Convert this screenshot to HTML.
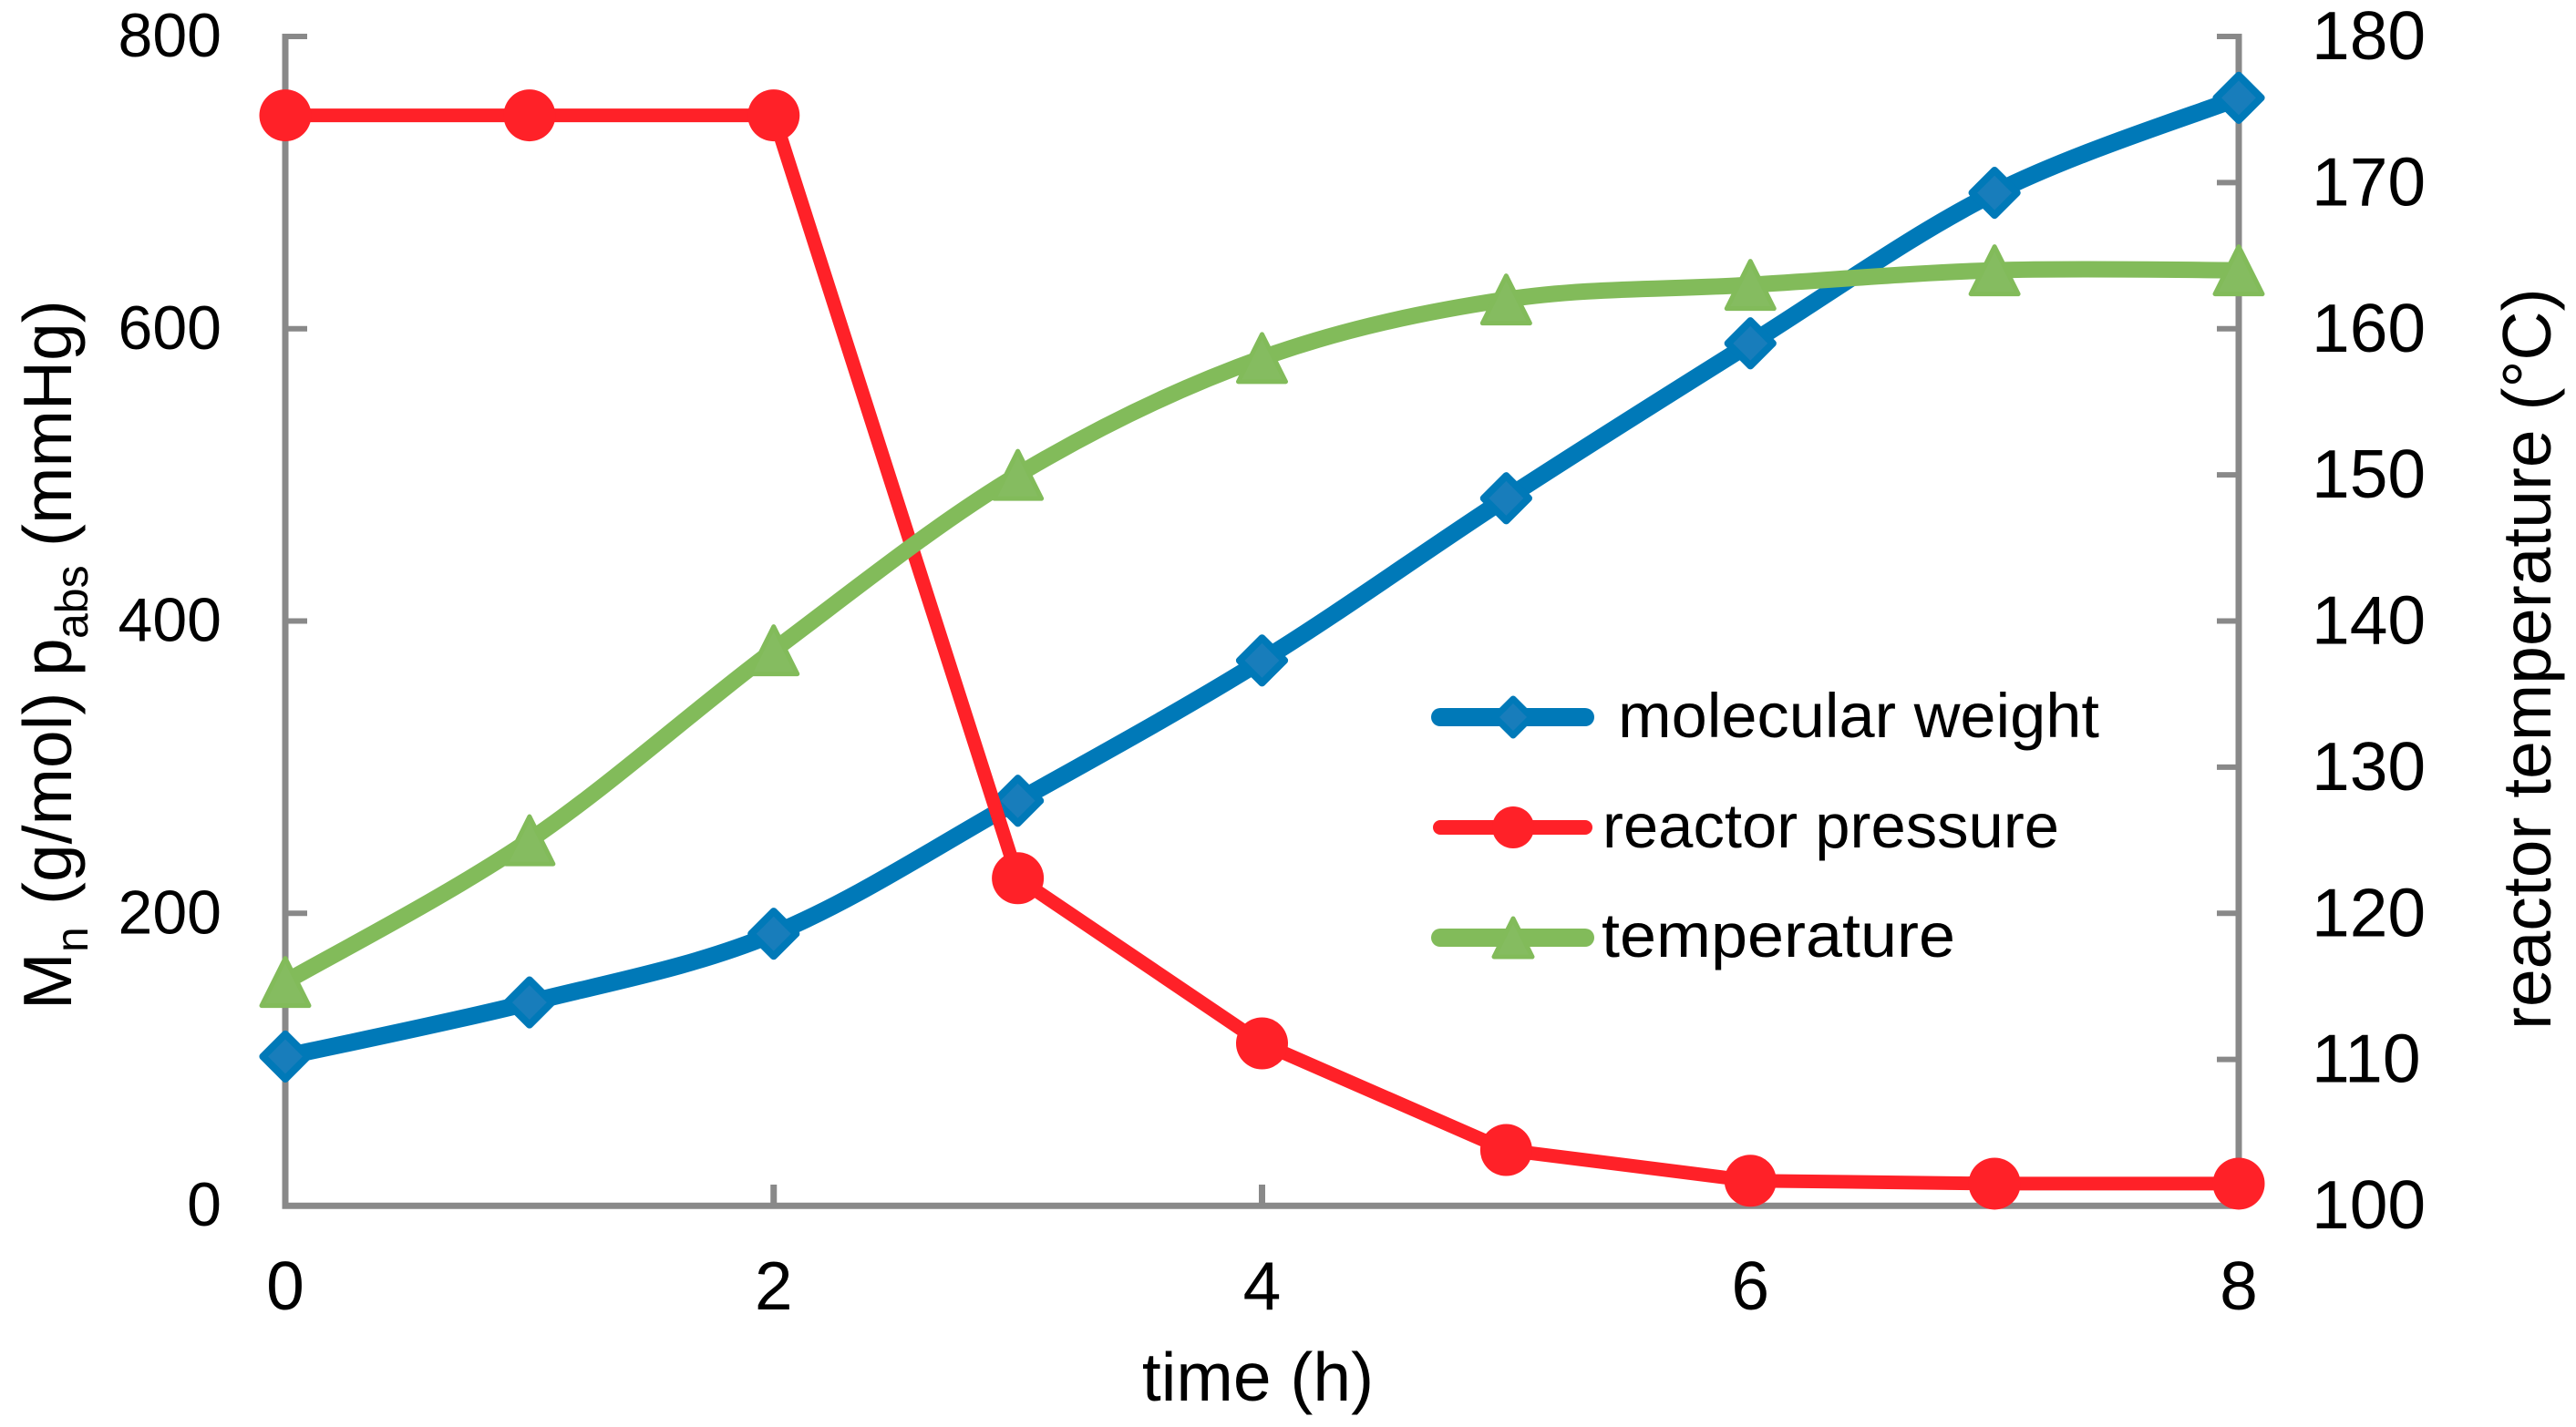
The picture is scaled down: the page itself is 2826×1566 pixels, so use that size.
<!DOCTYPE html>
<html lang="en">
<head>
<meta charset="utf-8">
<title>Molecular weight, reactor pressure and temperature versus time</title>
<style>
html,body{margin:0;padding:0;background:#fff}
body{width:2826px;height:1566px;overflow:hidden}
svg{display:block}
text{font-family:"Liberation Sans",sans-serif;fill:#000}
</style>
</head>
<body>
<svg id="chart" xmlns="http://www.w3.org/2000/svg" width="2826" height="1566" viewBox="0 0 2826 1566">
  <rect x="0" y="0" width="2826" height="1566" fill="#ffffff"/>
  <g id="axes"></g>
  <g id="series"></g>

  <text x="1380" y="1537" font-size="75" text-anchor="middle">time (h)</text>

  <text transform="translate(78,1103) rotate(-90)" font-size="75"><tspan x="-5">M</tspan><tspan x="58" dy="18" font-size="50">n</tspan><tspan x="110" dy="-18">(g/mol)</tspan><tspan x="361">p</tspan><tspan x="402" dy="18" font-size="50">abs</tspan><tspan x="503" dy="-18">(mmHg)</tspan></text>

  <text transform="translate(2798,1125) rotate(-90)" x="-5" y="0" font-size="75">reactor temperature (°C)</text>

  <g>
    <g>
      <line x1="1580" y1="787" x2="1739" y2="787" stroke="#0079b8" stroke-width="20" stroke-linecap="round"/>
      <polygon points="1660,767 1680,787 1660,807 1640,787" fill="#187dbb" stroke="#0079b8" stroke-width="7" stroke-linejoin="round"/>
      <text x="1775" y="809" font-size="69" textLength="528" lengthAdjust="spacingAndGlyphs">molecular weight</text>
    </g>
    <g>
      <line x1="1580" y1="908" x2="1739" y2="908" stroke="#ff2128" stroke-width="16" stroke-linecap="round"/>
      <circle cx="1660" cy="908" r="23" fill="#ff2128"/>
      <text x="1758" y="930" font-size="69" textLength="501" lengthAdjust="spacingAndGlyphs">reactor pressure</text>
    </g>
    <g>
      <line x1="1580" y1="1029" x2="1739" y2="1029" stroke="#82bb5a" stroke-width="20" stroke-linecap="round"/>
      <polygon points="1660,1008 1681,1050 1639,1050" fill="#85bc60" stroke="#82bb5a" stroke-width="5" stroke-linejoin="round"/>
      <text x="1757" y="1050" font-size="69" textLength="388" lengthAdjust="spacingAndGlyphs">temperature</text>
    </g>
  </g>
</svg>
<script>
const timeHours = [0, 1, 2, 3, 4, 5, 6, 7, 8];
const molecularWeight = [102, 139, 186, 277, 373, 484, 590, 693, 758];
const reactorPressure = [746, 746, 746, 224, 111, 38, 17, 15, 15];
const reactorTemperature = [115.3, 125, 138, 150, 158, 162, 163, 164, 164];
const xTickLabels = [0, 2, 4, 6, 8];
const leftTickLabels = [0, 200, 400, 600, 800];
const rightTickLabels = [100, 110, 120, 130, 140, 150, 160, 170, 180];

const NS = 'http://www.w3.org/2000/svg';
const axesGroup = document.getElementById('axes');
const seriesGroup = document.getElementById('series');
const GRAY = '#898989';

function xScale(t) { return 313 + (t - 0) * (2456 - 313) / 8; }
function yLeft(v) { return 1323 - v * (1323 - 40) / 800; }
function yRight(v) { return 1323 - (v - 100) * (1323 - 40) / 80; }

function make(tag, parent, attrs) {
  const el = document.createElementNS(NS, tag);
  for (const k in attrs) el.setAttribute(k, attrs[k]);
  parent.appendChild(el);
  return el;
}

function smoothPath(pts) {
  let d = 'M' + pts[0][0].toFixed(1) + ' ' + pts[0][1].toFixed(1);
  for (let i = 0; i < pts.length - 1; i++) {
    const p0 = pts[Math.max(i - 1, 0)];
    const p1 = pts[i];
    const p2 = pts[i + 1];
    const p3 = pts[Math.min(i + 2, pts.length - 1)];
    const c1x = p1[0] + (p2[0] - p0[0]) / 6;
    const c1y = p1[1] + (p2[1] - p0[1]) / 6;
    const c2x = p2[0] - (p3[0] - p1[0]) / 6;
    const c2y = p2[1] - (p3[1] - p1[1]) / 6;
    d += 'C' + c1x.toFixed(1) + ' ' + c1y.toFixed(1) + ' ' + c2x.toFixed(1) + ' ' + c2y.toFixed(1) + ' ' + p2[0].toFixed(1) + ' ' + p2[1].toFixed(1);
  }
  return d;
}

function straightPath(pts) {
  return pts.map(function (p, i) {
    return (i === 0 ? 'M' : 'L') + p[0].toFixed(1) + ' ' + p[1].toFixed(1);
  }).join('');
}

/* axis lines */
const leftAxis = make('line', axesGroup, { x1: 313, y1: 37, x2: 313, y2: 1326.5, stroke: GRAY, 'stroke-width': 7 });


const rightAxis = make('line', axesGroup, { x1: 2456, y1: 37, x2: 2456, y2: 1326.5, stroke: GRAY, 'stroke-width': 7 });


const bottomAxis = make('line', axesGroup, { x1: 309.5, y1: 1323.3, x2: 2459.5, y2: 1323.3, stroke: GRAY, 'stroke-width': 7 });



/* x ticks */
xTickLabels.forEach(function (t) {
  const x = xScale(t);
  const tick = make('line', axesGroup, { x1: x, y1: 1300, x2: x, y2: 1323, stroke: GRAY, 'stroke-width': 7 });
  
  
  const label = make('text', axesGroup, { x: x, y: 1437, 'font-size': 75, 'text-anchor': 'middle' });
  
  
  label.textContent = t;
});

/* left ticks */
leftTickLabels.forEach(function (v) {
  const y = yLeft(v);
  const tick = make('line', axesGroup, { x1: 313, y1: y, x2: 337, y2: y, stroke: GRAY, 'stroke-width': 6 });
  
  
  const label = make('text', axesGroup, { x: 243, y: y + 22, 'font-size': 68, 'text-anchor': 'end' });
  
  
  label.textContent = v;
});

/* right ticks */
rightTickLabels.forEach(function (v) {
  const y = yRight(v);
  const tick = make('line', axesGroup, { x1: 2432, y1: y, x2: 2456, y2: y, stroke: GRAY, 'stroke-width': 6 });
  
  
  const label = make('text', axesGroup, { x: 2536, y: y + 25, 'font-size': 75 });
  
  
  label.textContent = v;
});

/* molecular weight series */
const mwPts = timeHours.map(function (t, i) { return [xScale(t), yLeft(molecularWeight[i])]; });
const mwLine = make('path', seriesGroup, { d: smoothPath(mwPts), fill: 'none', stroke: '#0079b8', 'stroke-width': 19, 'stroke-linejoin': 'round' });


mwPts.forEach(function (p) {
  const D = 24.6;
  const m = make('polygon', seriesGroup, {
    points: [p[0], p[1] - D, p[0] + D, p[1], p[0], p[1] + D, p[0] - D, p[1]].join(' '),
    fill: '#187dbb', stroke: '#0079b8', 'stroke-width': 8, 'stroke-linejoin': 'round'
  });
  
  
});

/* reactor pressure series */
const rpPts = timeHours.map(function (t, i) { return [xScale(t), yLeft(reactorPressure[i])]; });
const rpLine = make('path', seriesGroup, { d: straightPath(rpPts), fill: 'none', stroke: '#ff2128', 'stroke-width': 15, 'stroke-linejoin': 'round' });


rpPts.forEach(function (p) {
  const m = make('circle', seriesGroup, { cx: p[0], cy: p[1], r: 28.5, fill: '#ff2128' });
  
  
});

/* temperature series */
const tpPts = timeHours.map(function (t, i) { return [xScale(t), yRight(reactorTemperature[i])]; });
const tpLine = make('path', seriesGroup, { d: smoothPath(tpPts), fill: 'none', stroke: '#82bb5a', 'stroke-width': 18, 'stroke-linejoin': 'round' });


tpPts.forEach(function (p) {
  const H = 26;
  const m = make('polygon', seriesGroup, {
    points: [p[0], p[1] - H, p[0] + H, p[1] + H, p[0] - H, p[1] + H].join(' '),
    fill: '#85bc60', stroke: '#82bb5a', 'stroke-width': 5, 'stroke-linejoin': 'round'
  });
  
  
});
</script>
</body>
</html>
